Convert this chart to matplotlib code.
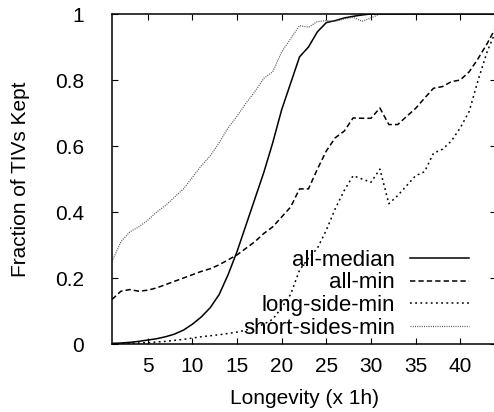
import matplotlib
matplotlib.use("Agg")
import matplotlib.pyplot as plt
import numpy as np

plt.rcParams['font.family'] = ['Liberation Sans', 'DejaVu Sans']

longevity = list(range(1, 45))
all_median = [0.002, 0.003, 0.005, 0.008, 0.012, 0.016, 0.022, 0.03, 0.042, 0.06,
              0.082, 0.11, 0.15, 0.21, 0.28, 0.36, 0.44, 0.52, 0.61, 0.71,
              0.79, 0.87, 0.9, 0.946, 0.974, 0.98, 0.988, 0.993, 0.997, 1.0,
              1, 1, 1, 1, 1, 1, 1, 1, 1, 1, 1, 1, 1, 1]
all_min = [0.135, 0.16, 0.165, 0.16, 0.163, 0.17, 0.18, 0.19, 0.2, 0.21,
           0.22, 0.228, 0.24, 0.255, 0.27, 0.29, 0.31, 0.335, 0.355, 0.385,
           0.415, 0.47, 0.47, 0.53, 0.585, 0.625, 0.645, 0.685, 0.684, 0.684,
           0.715, 0.665, 0.665, 0.69, 0.714, 0.745, 0.775, 0.78, 0.795, 0.8,
           0.825, 0.865, 0.91, 0.96]
long_side_min = [0.0, 0.0, 0.002, 0.003, 0.004, 0.006, 0.008, 0.011, 0.014, 0.018,
                 0.022, 0.025, 0.028, 0.032, 0.036, 0.042, 0.05, 0.06, 0.075, 0.11,
                 0.15, 0.224, 0.26, 0.29, 0.345, 0.41, 0.465, 0.51, 0.5, 0.49,
                 0.53, 0.425, 0.45, 0.48, 0.51, 0.522, 0.578, 0.59, 0.615, 0.655,
                 0.705, 0.8, 0.885, 0.95]
short_sides_min = [0.25, 0.31, 0.34, 0.355, 0.375, 0.4, 0.42, 0.445, 0.47, 0.505,
                   0.54, 0.57, 0.61, 0.655, 0.69, 0.73, 0.765, 0.805, 0.825, 0.885,
                   0.925, 0.965, 0.96, 0.977, 0.98, 0.978, 0.985, 0.99, 0.978, 0.988,
                   1, 1, 1, 1, 1, 1, 1, 1, 1, 1, 1, 1, 1, 1]

xticks = [5, 10, 15, 20, 25, 30, 35, 40]
yticks = [0, 0.2, 0.4, 0.6, 0.8, 1]
ytick_labels = ['0', '0.2', '0.4', '0.6', '0.8', '1']

fig = plt.figure(figsize=(4.94, 4.12), dpi=100)
ax = fig.add_axes([112/494, 68/412, 384/494, 330/412])

lw = 1.1
ax.plot(longevity, all_median, color='black', lw=lw, linestyle='-', label='all-median')
ax.plot(longevity, all_min, color='black', lw=lw, linestyle=(0, (3.5, 2)), label='all-min')
ax.plot(longevity, long_side_min, color='black', lw=lw, linestyle=(0, (1.2, 2.2)), label='long-side-min')
ax.plot(longevity, short_sides_min, color='#555555', lw=0.9, linestyle=(0, (0.8, 1.0)), label='short-sides-min')

ax.set_xlim(1, 44)
ax.set_ylim(0, 1)
ax.set_xticks(xticks)
ax.set_yticks(yticks)
ax.set_yticklabels(ytick_labels)
ax.tick_params(direction='in', length=4, width=0.8, top=True, right=True,
               labelsize=15)
ax.tick_params(axis='x', pad=9)
ax.tick_params(axis='y', pad=20)
for s in ax.spines.values():
    s.set_linewidth(1.1)

ax.set_xlabel('Longevity (x 1h)', fontsize=15)
ax.set_ylabel('Fraction of TIVs Kept', fontsize=15)
ax.xaxis.set_label_coords(0.5, -0.135)
ax.yaxis.set_label_coords(-0.213, 0.5)

leg = ax.legend(loc='lower right', bbox_to_anchor=(0.93, 0.015), markerfirst=False,
                frameon=False, fontsize=16, handlelength=2.65, handletextpad=0.68,
                labelspacing=0.08, borderaxespad=0, borderpad=0)

fig.savefig('out.png', dpi=100)
